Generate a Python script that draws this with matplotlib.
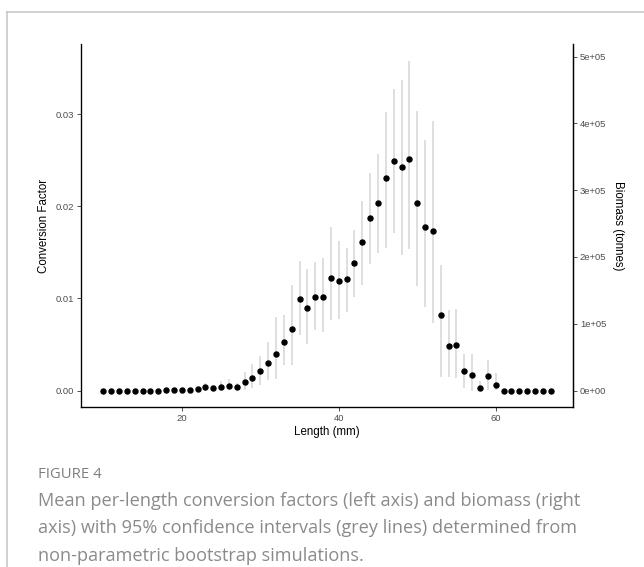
import matplotlib
matplotlib.use("Agg")
import matplotlib.pyplot as plt
from matplotlib.lines import Line2D
import numpy as np

# data
lengths = list(range(10, 68))
conv_factor = [0, 0, 0, 0, 0, 0, 0, 0, 0.00003, 0.00004, 0.00006, 0.00008,
               0.00014, 0.00036, 0.00027, 0.00038, 0.0005, 0.00043, 0.0009, 0.0014,
               0.0021, 0.0030, 0.0040, 0.0053, 0.0067, 0.0099, 0.0090, 0.0102,
               0.0102, 0.0122, 0.0119, 0.0121, 0.0138, 0.0161, 0.0187, 0.0203,
               0.0231, 0.0249, 0.0242, 0.0251, 0.0203, 0.0177, 0.0173, 0.0082,
               0.0048, 0.0049, 0.0021, 0.0017, 0.0003, 0.0016, 0.0006,
               0, 0, 0, 0, 0, 0, 0]
ci_low = [0, 0, 0, 0, 0, 0, 0, 0, 0.00003, 0.00004, 0.00006, 0.00008,
          0.0000, 0.0000, 0.0001, 0.0000, 0.0001, 0.0001, 0.0001, 0.0003,
          0.0006, 0.0011, 0.0013, 0.0028, 0.0028, 0.0060, 0.0051, 0.0066,
          0.0063, 0.0077, 0.0078, 0.0085, 0.0101, 0.0115, 0.0137, 0.0149,
          0.0155, 0.0171, 0.0147, 0.0154, 0.0113, 0.0091, 0.0073, 0.0015,
          0.0015, 0.0014, 0.0003, 0.0000, 0.0000, 0.0001, 0.0001,
          0, 0, 0, 0, 0, 0, 0]
ci_high = [0, 0, 0, 0, 0, 0, 0, 0, 0.00003, 0.00004, 0.00006, 0.00008,
           0.0004, 0.0008, 0.0006, 0.0010, 0.0012, 0.0008, 0.0020, 0.0029,
           0.0037, 0.0053, 0.0080, 0.0082, 0.0115, 0.0140, 0.0132, 0.0139,
           0.0144, 0.0177, 0.0162, 0.0155, 0.0174, 0.0206, 0.0236, 0.0257,
           0.0302, 0.0327, 0.0337, 0.0358, 0.0303, 0.0272, 0.0292, 0.0136,
           0.0087, 0.0088, 0.0040, 0.0040, 0.0010, 0.0033, 0.0019,
           0, 0, 0, 0, 0, 0, 0]
biomass_scale = 1.38e7   # tonnes per unit conversion factor (right axis)
cf_ticks = [0.00, 0.01, 0.02, 0.03]
cf_labels = ["0.00", "0.01", "0.02", "0.03"]
len_ticks = [20, 40, 60]
bio_ticks = [0, 1e5, 2e5, 3e5, 4e5, 5e5]
bio_labels = ["0e+00", "1e+05", "2e+05", "3e+05", "4e+05", "5e+05"]
caption_title = "FIGURE 4"
caption_lines = ["Mean per-length conversion factors (left axis) and biomass (right",
                 "axis) with 95% confidence intervals (grey lines) determined from",
                 "non-parametric bootstrap simulations."]

W, H = 644, 567
plt.rcParams['font.family'] = ['Liberation Sans', 'DejaVu Sans']
fig = plt.figure(figsize=(W / 100, H / 100), dpi=100)
ax = fig.add_axes([81 / W, 1 - 407 / H, (573 - 81) / W, (407 - 44) / H])

ax.vlines(lengths, ci_low, ci_high, color='#d6d6d6', lw=1.1, zorder=1)
ax.plot(lengths, conv_factor, 'o', color='black', ms=3.6, zorder=2)

ax.set_xlim(7.15, 69.85)
ylo, yhi = -0.00179, 0.0376
ax.set_ylim(ylo, yhi)
ax.set_xticks(len_ticks)
ax.set_yticks(cf_ticks)
ax.set_yticklabels(cf_labels)
ax.set_xlabel("Length (mm)", fontsize=8.3, labelpad=2)
ax.set_ylabel("Conversion Factor", fontsize=8.3, labelpad=4)
ax.tick_params(labelsize=6.8, colors='#333333', labelcolor='#4d4d4d', length=3, width=0.6, pad=2)
ax.spines['top'].set_visible(False)
for s in ['left', 'bottom', 'right']:
    ax.spines[s].set_linewidth(0.9)

ax2 = ax.twinx()
ax2.set_ylim(ylo * biomass_scale, yhi * biomass_scale)
ax2.set_yticks(bio_ticks)
ax2.set_yticklabels(bio_labels)
ax2.set_ylabel("Biomass (tonnes)", fontsize=8.3, rotation=270, labelpad=2, va='bottom')
ax2.tick_params(labelsize=6.8, colors='#333333', labelcolor='#4d4d4d', length=3, width=0.6, pad=2)
ax2.spines['top'].set_visible(False)
ax2.spines['right'].set_linewidth(0.9)
ax2.yaxis.set_label_coords(1.08, 0.5)

# page frame
fig.add_artist(Line2D([7 / W, 7 / W], [0, 1 - 12 / H], transform=fig.transFigure, color='#c8c8c8', lw=1.2))
fig.add_artist(Line2D([7 / W, 1], [1 - 12 / H, 1 - 12 / H], transform=fig.transFigure, color='#c8c8c8', lw=1.2))

cap_font = ['Open Sans', 'DejaVu Sans']
fig.text(38 / W, 1 - 478 / H, caption_title, fontsize=10.7, color='#7f7f7f', family=cap_font)
for i, line in enumerate(caption_lines):
    fig.text(38 / W, 1 - (506 + 27.3 * i) / H, line, fontsize=13.1, color='#8a8a8a', family=cap_font)

fig.savefig("out.png", dpi=100)
